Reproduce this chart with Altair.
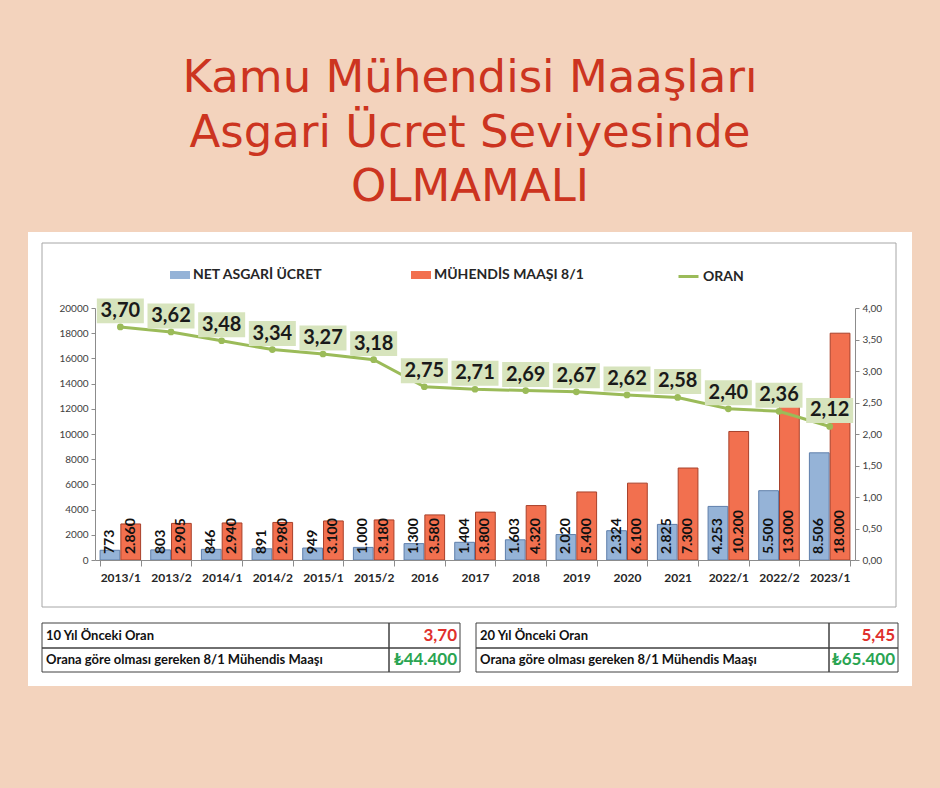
import altair as alt
import pandas as pd

# ---------------- data ----------------
categories = ["2013/1", "2013/2", "2014/1", "2014/2", "2015/1", "2015/2", "2016", "2017",
              "2018", "2019", "2020", "2021", "2022/1", "2022/2", "2023/1"]
net_asgari = [773, 803, 846, 891, 949, 1000, 1300, 1404, 1603, 2020, 2324, 2825, 4253, 5500, 8506]
muhendis = [2860, 2905, 2940, 2980, 3100, 3180, 3580, 3800, 4320, 5400, 6100, 7300, 10200, 13000, 18000]
oran = [3.70, 3.62, 3.48, 3.34, 3.27, 3.18, 2.75, 2.71, 2.69, 2.67, 2.62, 2.58, 2.40, 2.36, 2.12]
series_names = ["NET ASGARİ ÜCRET", "MÜHENDİS MAAŞI 8/1"]
line_name = "ORAN"
title_lines = ["Kamu Mühendisi Maaşları", "Asgari Ücret Seviyesinde", "OLMAMALI"]
left_ticks = [0, 2000, 4000, 6000, 8000, 10000, 12000, 14000, 16000, 18000, 20000]
right_ticks = [0, 0.5, 1.0, 1.5, 2.0, 2.5, 3.0, 3.5, 4.0]
table_left_labels = ["10 Yıl Önceki Oran", "Orana göre olması gereken 8/1 Mühendis Maaşı"]
table_left_values = ["3,70", "₺44.400"]
table_right_labels = ["20 Yıl Önceki Oran", "Orana göre olması gereken 8/1 Mühendis Maaşı"]
table_right_values = ["5,45", "₺65.400"]


def tr_int(v):
    return f"{v:,}".replace(",", ".")


def tr_dec(v):
    return f"{v:.2f}".replace(".", ",")


rows = []
for i, c in enumerate(categories):
    rows.append({"cat": c, "series": series_names[0], "value": net_asgari[i], "zero": 0,
                 "label": tr_int(net_asgari[i])})
    rows.append({"cat": c, "series": series_names[1], "value": muhendis[i], "zero": 0,
                 "label": tr_int(muhendis[i])})
bars_df = pd.DataFrame(rows)
line_df = pd.DataFrame({"cat": categories, "oran": oran, "label": [tr_dec(v) for v in oran],
                        "series": [line_name] * len(categories)})

# ---------------- layout ----------------
PL, PT = 95, 308      # plot origin in page pixels
W, H = 760, 252
FONT = "Lato"


def px(x):
    return x - PL


def py(y):
    return y - PT


one = pd.DataFrame({"a": [0]})

layers = []
# white panel
layers.append(alt.Chart(one).mark_rect(fill="white").encode(
    x=alt.value(px(28)), x2=alt.value(px(912)), y=alt.value(py(232)), y2=alt.value(py(686))))
# chart border box
layers.append(alt.Chart(one).mark_rect(fill="white", fillOpacity=0, stroke="#a6a6a6", strokeWidth=1).encode(
    x=alt.value(px(42)), x2=alt.value(px(896)), y=alt.value(py(243)), y2=alt.value(py(607))))

# title
for line, yc in zip(title_lines, [78, 133, 187]):
    layers.append(alt.Chart(pd.DataFrame({"t": [line]})).mark_text(
        font="DejaVu Sans", fontSize=45, color="#cc3420", align="center", baseline="middle").encode(
        text="t:N", x=alt.value(px(470)), y=alt.value(py(yc))))

x_enc = alt.X("cat:N", sort=categories,
              scale=alt.Scale(paddingInner=0.2, paddingOuter=0.1),
              axis=alt.Axis(title=None, labelAngle=0, labelFont=FONT, labelFontWeight="bold",
                            labelFontSize=12, labelColor="#262626", tickBand="extent", tickSize=6,
                            tickColor="#8c8c8c", domainColor="#8c8c8c", labelPadding=6, zindex=1))

left_axis = alt.Axis(orient="left", title=None, values=left_ticks, format="d", grid=False,
                     labelOverlap=False, labelFont=FONT, labelFontSize=10, labelColor="#404040",
                     tickSize=4, tickColor="#8c8c8c", domainColor="#8c8c8c", labelPadding=3, zindex=1)
left_scale = alt.Scale(domain=[0, 20000])

bar_base = alt.Chart(bars_df).encode(
    x=x_enc,
    xOffset=alt.XOffset("series:N", sort=series_names, scale=alt.Scale(paddingInner=0.05)),
)
bars = bar_base.mark_bar(strokeWidth=1).encode(
    y=alt.Y("value:Q", scale=left_scale, axis=left_axis),
    fill=alt.Fill("series:N", scale=alt.Scale(domain=series_names, range=["#95b3d7", "#f2704f"]),
                  legend=alt.Legend(title=None, orient="none", legendX=px(170), legendY=py(265),
                                    direction="horizontal", symbolType="M-1,-0.4H1V0.4H-1Z",
                                    symbolSize=400, symbolStrokeWidth=0, labelFont=FONT,
                                    labelFontWeight="bold", labelFontSize=14, labelColor="#262626",
                                    labelOffset=3, columnPadding=88)),
    stroke=alt.Stroke("series:N", scale=alt.Scale(domain=series_names, range=["#5f7fab", "#a8402a"]),
                      legend=None),
)
bar_labels = bar_base.mark_text(angle=270, align="left", baseline="middle", dx=6, font=FONT,
                                fontWeight="bold", fontSize=14, color="#111111").encode(
    y=alt.Y("zero:Q", scale=left_scale, axis=left_axis), text="label:N")
bar_layer = alt.layer(bars, bar_labels)

line_base = alt.Chart(line_df).encode(
    x=x_enc,
    y=alt.Y("oran:Q", scale=alt.Scale(domain=[0, 4]),
            axis=alt.Axis(orient="right", title=None, values=right_ticks, grid=False,
                          labelOverlap=False,
                          labelExpr="replace(format(datum.value, '.2f'), '.', ',')",
                          labelFont=FONT, labelFontSize=10, labelColor="#404040", tickSize=4,
                          tickColor="#8c8c8c", domainColor="#8c8c8c", labelPadding=3, zindex=1)),
)
line = line_base.mark_line(strokeWidth=3).encode(
    color=alt.Color("series:N", scale=alt.Scale(domain=[line_name], range=["#9bbb59"]),
                    legend=alt.Legend(title=None, orient="none", legendX=px(677), legendY=py(265),
                                      symbolSize=400, symbolStrokeWidth=3, labelFont=FONT,
                                      labelFontWeight="bold", labelFontSize=14,
                                      labelColor="#262626", labelOffset=3)))
points = line_base.mark_circle(color="#9bbb59", size=45, opacity=1)
label_boxes = line_base.mark_point(shape="M-1,-0.53H1V0.53H-1Z", size=47 * 47, filled=True,
                                   color="#d7e4bd", opacity=1, yOffset=-16)
label_text = line_base.mark_text(font=FONT, fontWeight="bold", fontSize=20, color="#1a1a1a",
                                 baseline="middle", dy=-16).encode(text="label:N")
line_layer = alt.layer(line, points, label_boxes, label_text)

layers.append(bar_layer)
layers.append(line_layer)


# tables
def table_layers(x0, xs, x1, labels, values):
    out = []
    ys = [623, 648, 672]
    value_colors = ["#e0302c", "#2aa452"]
    for r in range(2):
        for (a, b) in [(x0, xs), (xs, x1)]:
            out.append(alt.Chart(one).mark_rect(fill="white", fillOpacity=0, stroke="#404040",
                                                strokeWidth=1).encode(
                x=alt.value(px(a)), x2=alt.value(px(b)), y=alt.value(py(ys[r])), y2=alt.value(py(ys[r + 1]))))
        yc = (ys[r] + ys[r + 1]) / 2
        out.append(alt.Chart(pd.DataFrame({"t": [labels[r]]})).mark_text(
            font=FONT, fontWeight="bold", fontSize=13, color="#111111", align="left",
            baseline="middle").encode(text="t:N", x=alt.value(px(x0 + 4)), y=alt.value(py(yc))))
        out.append(alt.Chart(pd.DataFrame({"t": [values[r]]})).mark_text(
            font=FONT + ", DejaVu Sans", fontWeight="bold", fontSize=17,
            color=value_colors[r], align="right", baseline="middle").encode(
            text="t:N", x=alt.value(px(x1 - 3)), y=alt.value(py(yc))))
    return out


layers += table_layers(42, 389, 460, table_left_labels, table_left_values)
layers += table_layers(476, 829, 898, table_right_labels, table_right_values)

chart = alt.layer(*layers).resolve_scale(y="independent").properties(
    width=W, height=H,
    padding={"left": PL, "top": PT, "right": 940 - PL - W, "bottom": 788 - PT - H},
    autosize=alt.AutoSizeParams(type="none"),
).configure(background="#f3d3bd").configure_view(stroke=None)

chart.save("out.html", embed_options={"renderer": "svg", "actions": False})
